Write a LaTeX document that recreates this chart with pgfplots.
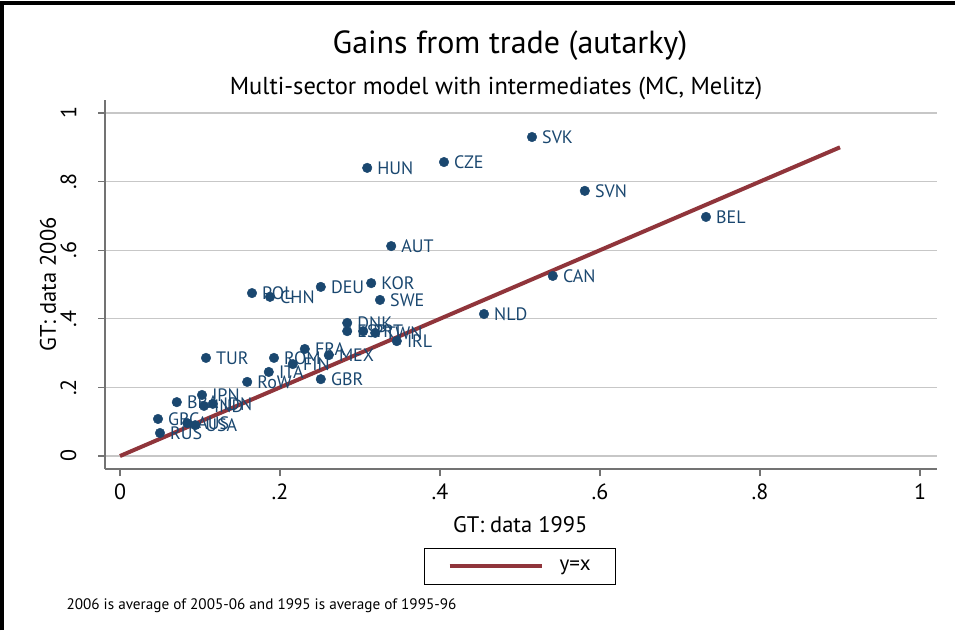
\documentclass[border=0pt]{standalone}
\usepackage{pgfplots}
\pgfplotsset{compat=1.18}
\usepackage{fontspec}
\setmainfont{PT Sans}
\definecolor{navy}{HTML}{1A476F}
\definecolor{maroon}{HTML}{90353B}
\begin{document}
\begin{tikzpicture}
\path[use as bounding box] (0pt,0pt) rectangle (961pt,630pt);
\draw[line width=4pt, black] (2pt,0pt) -- (2pt,627pt) -- (955pt,627pt);
\node[font=\fontsize{32}{32}\selectfont, anchor=center] at (510pt,584pt) {Gains from trade (autarky)};
\node[font=\fontsize{24.5}{24.5}\selectfont, anchor=center] at (496pt,542pt) {Multi-sector model with intermediates (MC, Melitz)};
\node[font=\fontsize{15.2}{15.2}\selectfont, anchor=west] at (63pt,24pt) {2006 is average of 2005-06 and 1995 is average of 1995-96};
\begin{axis}[
  at={(105pt,161pt)}, anchor=south west,
  scale only axis, width=832pt, height=369pt,
  xmin=-0.01875, xmax=1.02125, ymin=-0.0379, ymax=1.0379,
  axis x line*=bottom, axis y line*=left,
  axis line style={black!55, line width=1.2pt},
  xtick={0,0.2,0.4,0.6,0.8,1}, xticklabels={0,.2,.4,.6,.8,1},
  ytick={0,0.2,0.4,0.6,0.8,1}, yticklabels={0,.2,.4,.6,.8,1},
  tick align=outside, major tick length=7pt,
  tick style={black!55, line width=1.2pt},
  ymajorgrids, grid style={black!22, line width=1.2pt},
  xticklabel style={font=\fontsize{22}{22}\selectfont},
  xticklabel shift=4pt,
  yticklabel style={font=\fontsize{22}{22}\selectfont, rotate=90, anchor=south},
  yticklabel shift=18pt,
  xlabel={GT: data 1995}, ylabel={GT: data 2006},
  xlabel style={font=\fontsize{22.5}{22.5}\selectfont, at={(axis description cs:0.499,-0.152)}, anchor=center},
  ylabel style={font=\fontsize{22.5}{22.5}\selectfont, at={(axis description cs:-0.0685,0.5)}, anchor=center},
  clip=false,
  legend style={at={(axis description cs:0.499,-0.263)}, anchor=center, draw=black, line width=1pt,
    inner xsep=23pt, inner ysep=10pt, font=\fontsize{21}{21}\selectfont,
    /tikz/every odd column/.append style={column sep=14pt}},
  legend image code/.code={\draw[#1] (0pt,0pt) -- (92pt,0pt);},
]
\addplot[only marks, mark=*, mark size=4.8pt, color=navy, forget plot,
  point meta=explicit symbolic, nodes near coords,
  nodes near coords style={anchor=west, inner sep=0pt, xshift=10pt, text=navy,
    font=\fontsize{18}{18}\selectfont}]
  table[x=x, y=y, meta=label] {
x y label
0.515 0.930 SVK
0.309 0.840 HUN
0.405 0.857 CZE
0.581 0.773 SVN
0.7325 0.697 BEL
0.339 0.612 AUT
0.541 0.525 CAN
0.314 0.504 KOR
0.251 0.493 DEU
0.165 0.475 POL
0.1875 0.464 CHN
0.325 0.455 SWE
0.455 0.414 NLD
0.284 0.388 DNK
0.284 0.364 ESP
0.304 0.364 PRT
0.319 0.359 TWN
0.346 0.335 IRL
0.231 0.312 FRA
0.261 0.294 MEX
0.1925 0.286 ROM
0.216 0.268 FIN
0.186 0.245 ITA
0.159 0.216 RoW
0.251 0.224 GBR
0.1075 0.286 TUR
0.1025 0.178 JPN
0.071 0.157 BRA
0.105 0.146 IND
0.116 0.152 IDN
0.0475 0.108 GRC
0.084 0.096 AUS
0.094 0.090 USA
0.05 0.067 RUS
};
\addplot[color=maroon, line width=4pt] coordinates {(0,0) (0.9,0.9)};
\addlegendentry{y=x}
\end{axis}
\end{tikzpicture}
\end{document}
